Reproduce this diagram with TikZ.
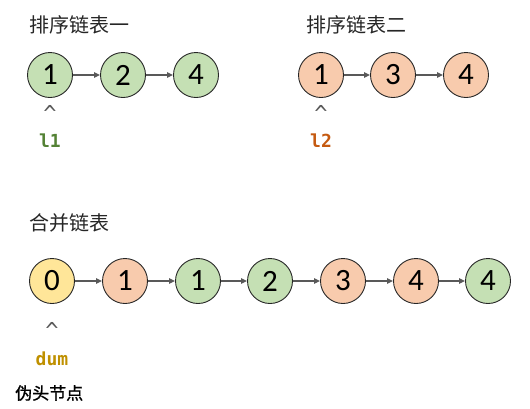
\documentclass[tikz,border=0pt]{standalone}
\usepackage{fontspec}
\setmainfont{Carlito}
\newfontfamily\cjkfont{Noto Sans CJK SC}
\newfontfamily\cjkmedium[FakeBold=1.2]{Noto Sans CJK SC}
\newfontfamily\codefont{DejaVu Sans Mono}
\usetikzlibrary{arrows.meta}
\definecolor{lgreen}{HTML}{C5E0B4}
\definecolor{lorange}{HTML}{F8CBAD}
\definecolor{lyellow}{HTML}{FFE699}
\definecolor{arrowgray}{HTML}{595959}
\definecolor{codegreen}{HTML}{548235}
\definecolor{codeorange}{HTML}{C55A11}
\definecolor{codegold}{HTML}{BF9000}
\tikzset{
  lnode/.style={circle, draw=black!85, line width=0.9pt, minimum size=45pt, inner sep=0pt,
    font=\fontsize{31}{31}\selectfont},
  gnode/.style={lnode, fill=lgreen},
  onode/.style={lnode, fill=lorange},
  ynode/.style={lnode, fill=lyellow},
  link/.style={draw=arrowgray, line width=1.3pt, -{Triangle[length=6pt,width=5.5pt]}},
  title/.style={anchor=west, inner sep=0pt, text=black!85, font=\cjkfont\fontsize{20}{20}\selectfont},
  caret/.style={inner sep=0pt, text=arrowgray, font=\codefont\fontsize{22}{22}\selectfont},
  ptr/.style={inner sep=0pt, font=\codefont\bfseries\fontsize{18}{18}\selectfont}
}
\begin{document}
\begin{tikzpicture}[x=1pt,y=-1pt]
\useasboundingbox (0,0) rectangle (530,408);
% list one
\node[title] (t1) at (29,25) {排序链表一};
\node[gnode] (a1) at (50,75) {1};
\node[gnode] (a2) at (123,75) {2};
\node[gnode] (a3) at (196,75) {4};
\draw[link] (a1) -- (a2);
\draw[link] (a2) -- (a3);
\node[caret] (c1) at (50,113) {\^{}};
\node[ptr, text=codegreen] (p1) at (50,141) {l1};
% list two
\node[title] (t2) at (306,25) {排序链表二};
\node[onode] (b1) at (321,75) {1};
\node[onode] (b2) at (393,75) {3};
\node[onode] (b3) at (466,75) {4};
\draw[link] (b1) -- (b2);
\draw[link] (b2) -- (b3);
\node[caret] (c2) at (321,113) {\^{}};
\node[ptr, text=codeorange] (p2) at (321,141) {l2};
% merged
\node[title] (t3) at (29,223) {合并链表};
\node[ynode] (m0) at (52,281) {0};
\node[onode] (m1) at (125,281) {1};
\node[gnode] (m2) at (198,281) {1};
\node[gnode] (m3) at (270,281) {2};
\node[onode] (m4) at (343,281) {3};
\node[onode] (m5) at (416,281) {4};
\node[gnode] (m6) at (488,281) {4};
\draw[link] (m0) -- (m1);
\draw[link] (m1) -- (m2);
\draw[link] (m2) -- (m3);
\draw[link] (m3) -- (m4);
\draw[link] (m4) -- (m5);
\draw[link] (m5) -- (m6);
\node[caret] (c3) at (52,330) {\^{}};
\node[ptr, text=codegold] (p3) at (52,359) {dum};
\node[anchor=west, inner sep=0pt, font=\cjkmedium\fontsize{17}{17}\selectfont] (lab) at (15,393) {伪头节点};
\end{tikzpicture}
\end{document}
